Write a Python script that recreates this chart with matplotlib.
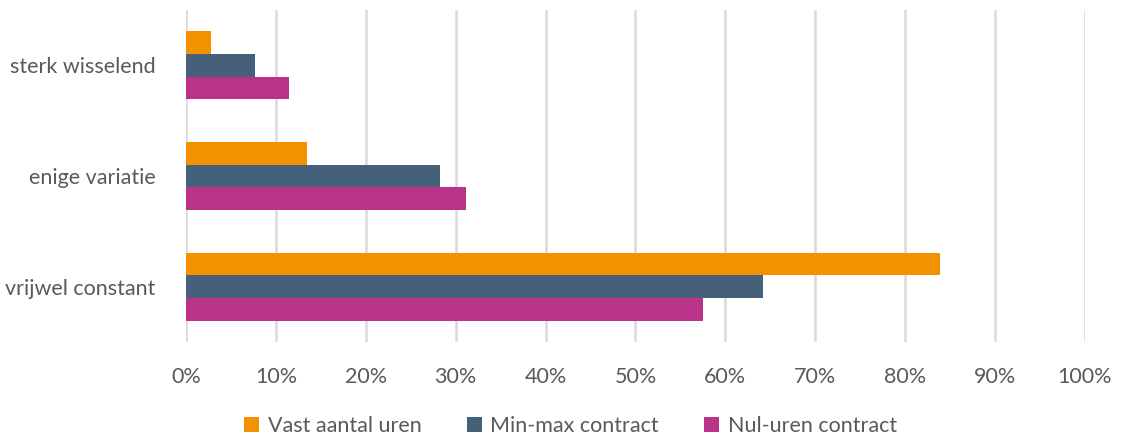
import matplotlib

matplotlib.use("Agg")
from matplotlib import pyplot as plt
from matplotlib.ticker import FuncFormatter
import numpy as np

plt.rcParams["font.family"] = ["Lato", "DejaVu Sans"]

# categories from bottom to top
categories = ["vrijwel constant", "enige variatie", "sterk wisselend"]
series_names = ["Vast aantal uren", "Min-max contract", "Nul-uren contract"]
vast = [83.9, 13.5, 2.8]
minmax = [64.2, 28.3, 7.7]
nuluren = [57.5, 31.2, 11.5]
colors = ["#F39200", "#466079", "#B93389"]

text_color = "#595959"
grid_color = "#D9D9D9"

fig = plt.figure(figsize=(11.25, 4.38), dpi=100)
ax = fig.add_axes([0.1653, 0.219, 0.7991, 0.758])

y = np.arange(len(categories))
bar_h = 0.205
for offset, values, color, name in zip([bar_h, 0.0, -bar_h], [vast, minmax, nuluren], colors, series_names):
    ax.barh(y + offset, values, height=bar_h, color=color, label=name, zorder=2)

ax.set_xlim(0, 100)
ax.set_ylim(-0.5, len(categories) - 0.5)
ax.set_xticks(np.arange(0, 101, 10))
ax.xaxis.set_major_formatter(FuncFormatter(lambda v, _: f"{v:.0f}%"))
ax.set_yticks(y)
ax.set_yticklabels(categories)
ax.tick_params(axis="both", length=0, labelsize=15.5, colors=text_color)
ax.tick_params(axis="x", pad=18)
ax.tick_params(axis="y", pad=22)
for spine in ax.spines.values():
    spine.set_visible(False)
ax.grid(axis="x", color=grid_color, linewidth=1.8, zorder=0)
ax.set_axisbelow(True)

leg = fig.legend(
    loc="lower center",
    bbox_to_anchor=(0.507, -0.04),
    ncol=3,
    frameon=False,
    fontsize=15.5,
    handlelength=0.7,
    handleheight=0.7,
    handletextpad=0.4,
    columnspacing=2.1,
)
for t in leg.get_texts():
    t.set_color(text_color)

fig.savefig("out.png", dpi=100)
